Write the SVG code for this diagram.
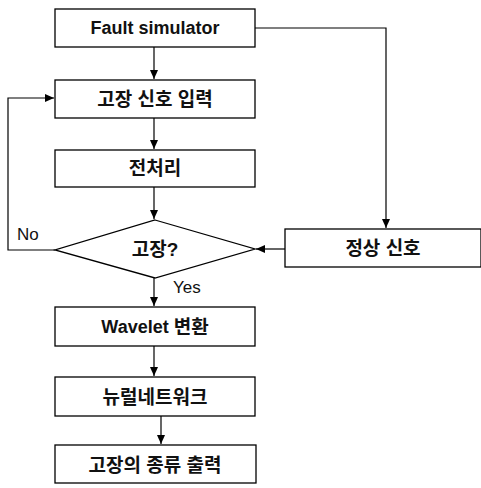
<svg xmlns="http://www.w3.org/2000/svg" width="481" height="488" viewBox="0 0 481 488">
<style>
.box{fill:#fff;stroke:#000;stroke-width:1.3}
.t{font-family:"Liberation Sans","Noto Sans CJK KR",sans-serif;font-size:18px;font-weight:bold;text-anchor:middle;dominant-baseline:central;fill:#111}
.k{font-size:19px}
.l{font-family:"Liberation Sans","Noto Sans CJK KR",sans-serif;font-size:17px;fill:#111}
.c{fill:none;stroke:#000;stroke-width:1.2}
</style>
<defs>
<marker id="ah" markerWidth="10" markerHeight="10" refX="9" refY="5" orient="auto" markerUnits="userSpaceOnUse">
<path d="M0,1 L9,5 L0,9 Z" fill="#000"/>
</marker>
</defs>
<rect width="481" height="488" fill="#fff"/>
<g id="connectors">
<path class="c" d="M154,47 V79" marker-end="url(#ah)"/>
<path class="c" d="M154,118 V149" marker-end="url(#ah)"/>
<path class="c" d="M154,187 V219" marker-end="url(#ah)"/>
<path class="c" d="M255,28 H386 V228" marker-end="url(#ah)"/>
<path class="c" d="M285,249 H256" marker-end="url(#ah)"/>
<path class="c" d="M55,250 H8 V98 H54" marker-end="url(#ah)"/>
<path class="c" d="M154,278 V306" marker-end="url(#ah)"/>
<path class="c" d="M154,346 V376" marker-end="url(#ah)"/>
<path class="c" d="M161,416 V444" marker-end="url(#ah)"/>
<text class="l" x="17" y="240">No</text>
<text class="l" x="173" y="293">Yes</text>
</g>
<g id="fault-simulator"><rect class="box" x="55" y="9" width="200" height="38"/><text class="t" x="155" y="28">Fault simulator</text></g>
<g id="signal-input"><rect class="box" x="55" y="80" width="200" height="38"/><text class="t k" x="155" y="99">고장 신호 입력</text></g>
<g id="preprocess"><rect class="box" x="55" y="150" width="200" height="37"/><text class="t k" x="155" y="168">전처리</text></g>
<g id="decision"><polygon class="box" points="155,220 255,249 155,278 55,250"/><text class="t k" x="155" y="249">고장?</text></g>
<g id="normal-signal"><rect class="box" x="285" y="229" width="196" height="38"/><text class="t k" x="383" y="248">정상 신호</text></g>
<g id="wavelet"><rect class="box" x="55" y="307" width="200" height="39"/><text class="t" x="155" y="327">Wavelet <tspan class="k">변환</tspan></text></g>
<g id="neural"><rect class="box" x="55" y="377" width="200" height="39"/><text class="t k" x="155" y="397">뉴럴네트워크</text></g>
<g id="output"><rect class="box" x="55" y="445" width="201" height="38"/><text class="t k" x="155" y="465">고장의 종류 출력</text></g>
</svg>
